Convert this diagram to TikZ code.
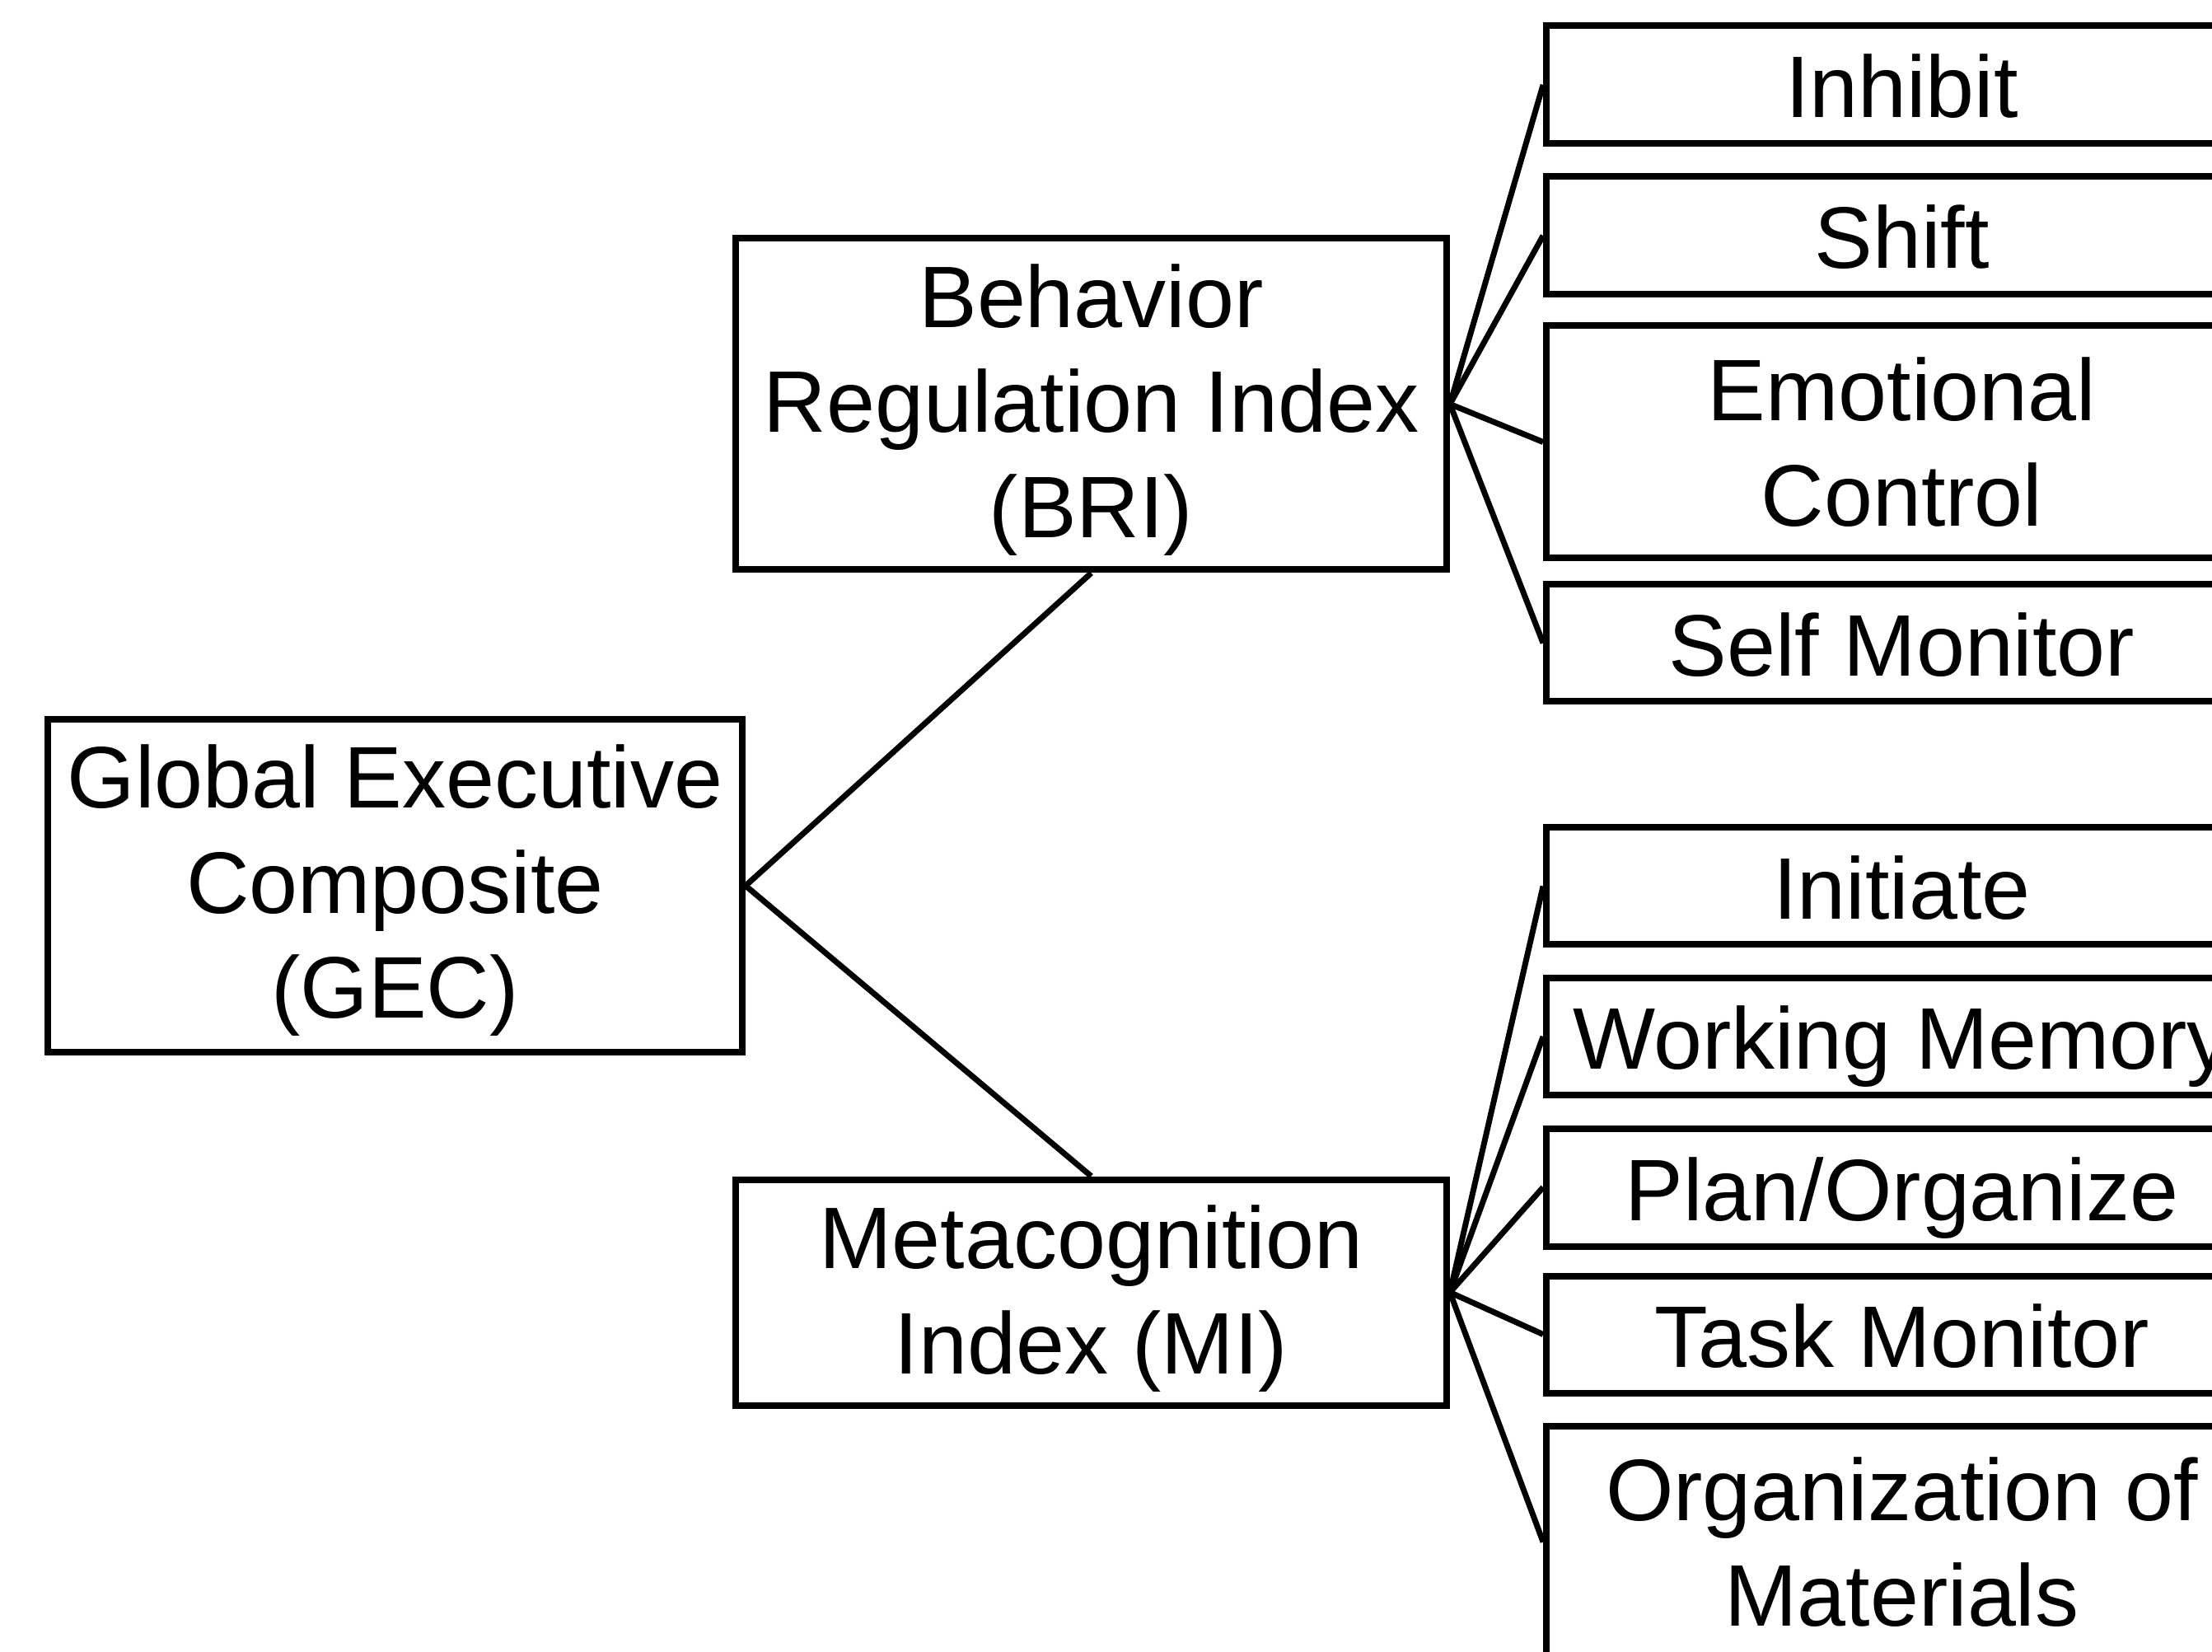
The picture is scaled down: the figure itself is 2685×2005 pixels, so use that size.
\documentclass[tikz,border=0pt]{standalone}
\usepackage{fontspec}
\setmainfont{Liberation Sans}
\begin{document}
\begin{tikzpicture}[x=0.1pt,y=-0.1pt,
  txt/.style={inner sep=0pt, align=center,
    font=\fontsize{10.6pt}{12.75pt}\selectfont},
  box/.style={txt, draw=black, line width=0.8pt},
  idxbox/.style={box, minimum width=86.3pt},
  leafbox/.style={box, minimum width=86.3pt},
  oneline/.style={leafbox, text height=8pt, text depth=0pt},
  link/.style={draw=black, line width=0.7pt}]
  \useasboundingbox (0,0) rectangle (2685,2005);
  \fill[white] (0,0) rectangle (2685,2005);
  \clip (0,0) rectangle (2685,2005);

  % composite and index boxes, their text set slightly below centre
  \node[box, minimum width=84.3pt, minimum height=40.4pt] (gec) at (479.5,1075) {};
  \node[txt] (gec-text) at ([yshift=-0.6pt]gec.center)
    {Global Executive\\Composite\\(GEC)};
  \node[idxbox, minimum height=40.2pt] (bri) at (1324.5,490.5) {};
  \node[txt] (bri-text) at ([yshift=-0.7pt]bri.center)
    {Behavior\\Regulation Index\\(BRI)};
  \node[idxbox, minimum height=27.4pt] (mi) at (1324.5,1568.5) {};
  \node[txt] (mi-text) at ([yshift=-0.75pt]mi.center)
    {Metacognition\\Index (MI)};

  % behavior regulation scales
  \node[oneline, minimum height=14.3pt] (inh) at (2308.5,103) {Inhibit};
  \node[oneline, minimum height=14.3pt] (shf) at (2308.5,286) {Shift};
  \node[leafbox, minimum height=28.2pt] (emo) at (2308.5,536.5) {Emotional\\Control};
  \node[oneline, minimum height=14.2pt] (smo) at (2308.5,780.5) {Self Monitor};

  % metacognition scales
  \node[oneline, minimum height=14.2pt] (ini) at (2308.5,1075.5) {Initiate};
  \node[oneline, minimum height=14.3pt] (wme) at (2308.5,1258) {Working Memory};
  \node[oneline, minimum height=14.3pt] (pla) at (2308.5,1441) {Plan/Organize};
  \node[oneline, minimum height=14.2pt] (tmo) at (2308.5,1619.5) {Task Monitor};
  \node[leafbox, minimum height=28.2pt] (org) at (2308.5,1871.5) {Organization of\\Materials};

  % connectors
  \draw[link] (bri.south) -- (gec.east) -- (mi.north);
  \foreach \t in {inh,shf,emo,smo}
    \draw[link] (bri.east) -- (\t.west);
  \foreach \t in {ini,wme,pla,tmo,org}
    \draw[link] (mi.east) -- (\t.west);
\end{tikzpicture}
\end{document}
